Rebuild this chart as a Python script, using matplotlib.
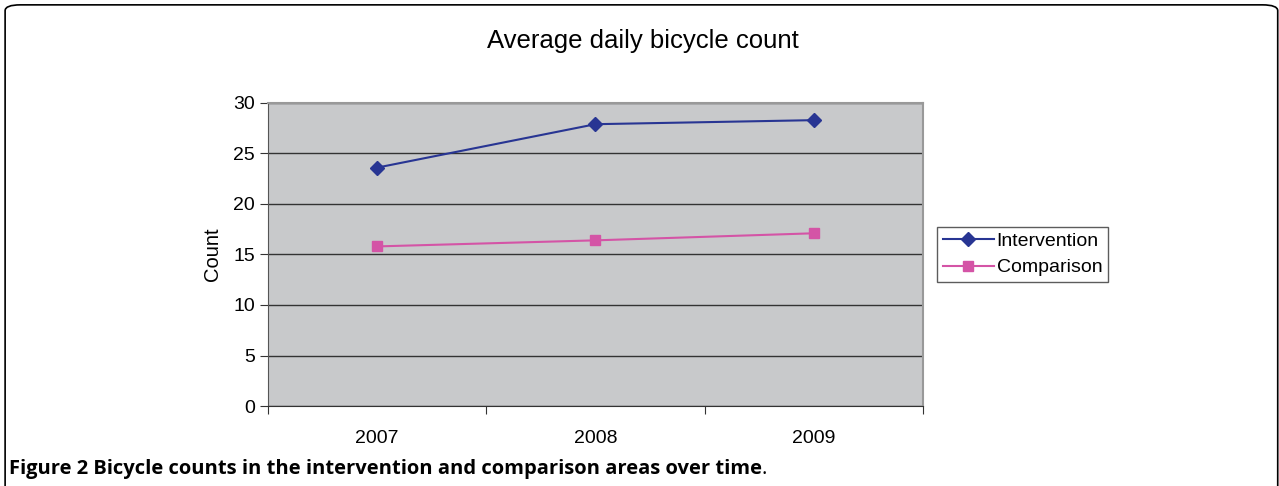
import matplotlib
matplotlib.use('Agg')
import matplotlib.pyplot as plt
from matplotlib.patches import FancyBboxPatch

# chart data
years = ['2007', '2008', '2009']
intervention = [23.6, 27.9, 28.3]
comparison = [15.8, 16.4, 17.1]
y_ticks = [0, 5, 10, 15, 20, 25, 30]

plt.rcParams['font.family'] = ['Liberation Sans', 'DejaVu Sans']

fig = plt.figure(figsize=(12.79, 4.86), dpi=100)

# rounded frame round the whole figure
frame = FancyBboxPatch((0.004, -0.05), 0.995, 1.04, boxstyle='round,pad=0,rounding_size=0.012',
                       transform=fig.transFigure, fill=False, edgecolor='black', linewidth=1.2)
fig.patches.append(frame)

ax = fig.add_axes([0.2095, 0.1646, 0.5121, 0.6235])
ax.set_facecolor('#c8c9cb')

xpos = [i + 0.5 for i in range(len(years))]
ax.plot(xpos, intervention, color='#283593', marker='D', markersize=7, linewidth=1.5, label='Intervention')
ax.plot(xpos, comparison, color='#d454a6', marker='s', markersize=7, linewidth=1.5, label='Comparison')

ax.set_xlim(0, 3)
ax.set_ylim(0, 30)
ax.set_yticks(y_ticks)
ax.set_xticks([0, 1, 2, 3])
ax.set_xticklabels([])
ax.set_xticks(xpos, minor=True)
ax.set_xticklabels(years, minor=True)
ax.tick_params(axis='x', which='minor', length=0, pad=17, labelsize=14)
ax.tick_params(axis='x', which='major', direction='out', length=6, color='#333333')
ax.tick_params(axis='y', direction='out', length=6, labelsize=14, color='#333333')

ax.grid(axis='y', color='#333333', linewidth=1)
ax.set_axisbelow(True)
for s in ['top', 'right']:
    ax.spines[s].set_color('#999999')
    ax.spines[s].set_linewidth(1.5)
ax.spines['left'].set_color('#555555')
ax.spines['bottom'].set_color('#333333')

ax.set_ylabel('Count', fontsize=14.5, labelpad=8)

fig.text(0.503, 0.915, 'Average daily bicycle count', ha='center', va='center', fontsize=18.5)

leg = ax.legend(loc='center left', bbox_to_anchor=(1.022, 0.5), fontsize=14, frameon=True,
                fancybox=False, edgecolor='#333333', handlelength=2.6, borderpad=0.3,
                labelspacing=0.45, handletextpad=0.15, borderaxespad=0)
leg.get_frame().set_linewidth(1)

cap = fig.text(0.007, 0.035, 'Figure 2 Bicycle counts in the intervention and comparison areas over time',
               ha='left', va='center', fontsize=14.5, fontweight='bold', family=['Open Sans', 'DejaVu Sans'])
fig.canvas.draw()
bb = cap.get_window_extent()
fig.text(bb.x1 / fig.bbox.width, 0.035, '.', ha='left', va='center', fontsize=14.5,
         family=['Open Sans', 'DejaVu Sans'])

fig.savefig('out.png', dpi=100)
